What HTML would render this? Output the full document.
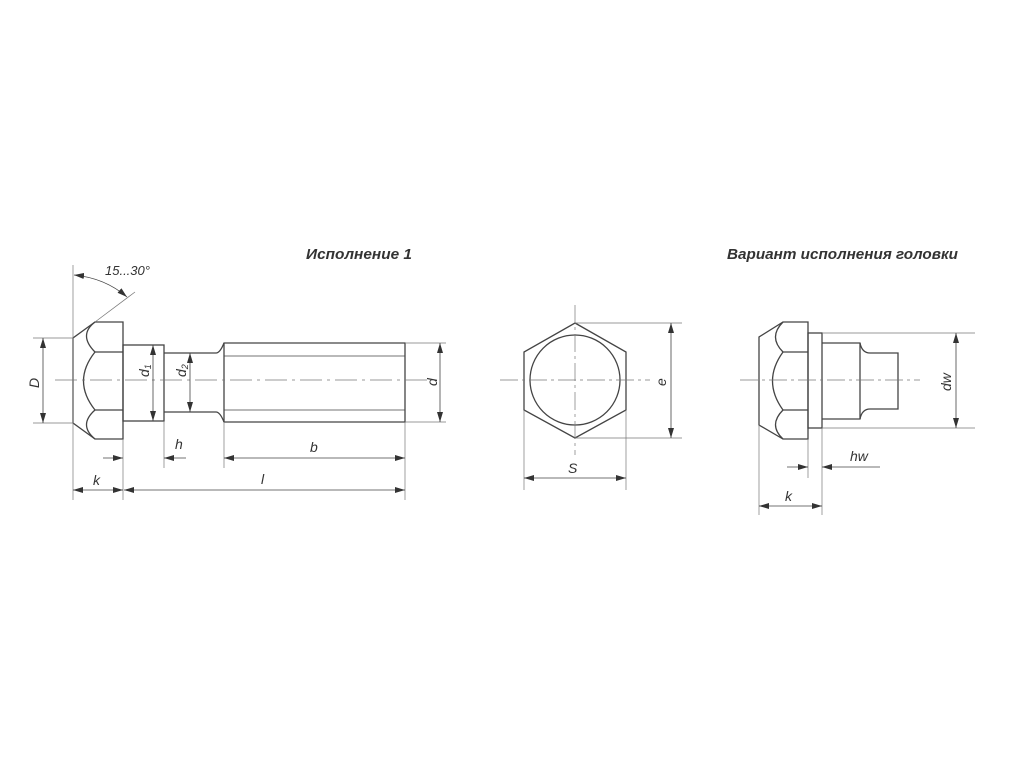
<!DOCTYPE html>
<html><head><meta charset="utf-8"><style>
html,body{margin:0;padding:0;background:#fff;}
svg{display:block}
text{font-family:"Liberation Sans",sans-serif;font-style:italic;fill:#333;}
</style></head><body>
<svg width="1024" height="768" viewBox="0 0 1024 768" xmlns="http://www.w3.org/2000/svg">
<defs>
<marker id="a" viewBox="0 0 10 6" refX="10" refY="3" markerWidth="10" markerHeight="6" orient="auto-start-reverse" markerUnits="userSpaceOnUse"><path d="M0,0 L10,3 L0,6 z" fill="#333"/></marker>
</defs>
<g stroke="#444" stroke-width="1.3" fill="none">
<path d="M73,338 L73,423 L95,439 L123,439 L123,322 L95,322 Z"/>
<path d="M95,322 Q78,335 95,352 M95,352 Q72,381 95,410 M95,410 Q78,425 95,439"/>
<line x1="95" y1="352" x2="123" y2="352"/><line x1="95" y1="410" x2="123" y2="410"/>
<rect x="123" y="345" width="41" height="76"/>
<path d="M164,353 L216,353 Q220,353 224,343 L405,343 L405,422 L224,422 Q220,412 216,412 L164,412"/>
<line x1="224" y1="343" x2="224" y2="422"/>
<line x1="224" y1="356" x2="405" y2="356" stroke-width="0.8"/><line x1="224" y1="410" x2="405" y2="410" stroke-width="0.8"/>
<polygon points="575,323 626,352 626,410 575,438 524,410 524,352"/>
<circle cx="575" cy="380" r="45"/>
<path d="M759,337 L759,425 L783,439 L808,439 L808,322 L783,322 Z"/>
<path d="M783,322 Q768,337 783,352 M783,352 Q762,381 783,410 M783,410 Q768,425 783,439"/>
<line x1="783" y1="352" x2="808" y2="352"/><line x1="783" y1="410" x2="808" y2="410"/>
<rect x="808" y="333" width="14" height="95"/>
<path d="M822,343 L860,343 Q862,353 870,353 L898,353 L898,409 L870,409 Q862,409 860,419 L822,419"/>
<line x1="860" y1="343" x2="860" y2="419"/>
</g>
<g stroke="#777" stroke-width="0.7" fill="none">
<line x1="55" y1="380" x2="430" y2="380" stroke-dasharray="22,5,3,5"/>
<line x1="500" y1="380" x2="650" y2="380" stroke-dasharray="18,4,3,4"/>
<line x1="575" y1="305" x2="575" y2="455" stroke-dasharray="18,4,3,4"/>
<line x1="740" y1="380" x2="920" y2="380" stroke-dasharray="18,4,3,4"/>
<line x1="33" y1="338" x2="73" y2="338"/><line x1="33" y1="423" x2="73" y2="423"/>
<line x1="405" y1="343" x2="446" y2="343"/><line x1="405" y1="422" x2="446" y2="422"/>
<line x1="73" y1="265" x2="73" y2="500"/><line x1="123" y1="439" x2="123" y2="500"/>
<line x1="164" y1="421" x2="164" y2="468"/><line x1="224" y1="422" x2="224" y2="468"/>
<line x1="405" y1="422" x2="405" y2="500"/>
<line x1="95" y1="322" x2="135" y2="292"/>
<line x1="575" y1="323" x2="682" y2="323"/><line x1="575" y1="438" x2="682" y2="438"/>
<line x1="524" y1="410" x2="524" y2="490"/><line x1="626" y1="410" x2="626" y2="490"/>
<line x1="822" y1="333" x2="975" y2="333"/><line x1="822" y1="428" x2="975" y2="428"/>
<line x1="759" y1="425" x2="759" y2="515"/><line x1="822" y1="428" x2="822" y2="515"/>
<line x1="808" y1="439" x2="808" y2="478"/>
</g>
<g stroke="#444" stroke-width="0.8" fill="none">
<line x1="43" y1="338" x2="43" y2="423" marker-start="url(#a)" marker-end="url(#a)"/>
<line x1="153" y1="345" x2="153" y2="421" marker-start="url(#a)" marker-end="url(#a)"/>
<line x1="190" y1="353" x2="190" y2="412" marker-start="url(#a)" marker-end="url(#a)"/>
<line x1="440" y1="343" x2="440" y2="422" marker-start="url(#a)" marker-end="url(#a)"/>
<line x1="103" y1="458" x2="123" y2="458" marker-end="url(#a)"/>
<line x1="186" y1="458" x2="164" y2="458" marker-end="url(#a)"/>
<line x1="224" y1="458" x2="405" y2="458" marker-start="url(#a)" marker-end="url(#a)"/>
<line x1="73" y1="490" x2="123" y2="490" marker-start="url(#a)" marker-end="url(#a)"/>
<line x1="124" y1="490" x2="405" y2="490" marker-start="url(#a)" marker-end="url(#a)"/>
<path d="M74,275 Q105,278 127,297" marker-start="url(#a)" marker-end="url(#a)"/>
<line x1="671" y1="323" x2="671" y2="438" marker-start="url(#a)" marker-end="url(#a)"/>
<line x1="524" y1="478" x2="626" y2="478" marker-start="url(#a)" marker-end="url(#a)"/>
<line x1="956" y1="333" x2="956" y2="428" marker-start="url(#a)" marker-end="url(#a)"/>
<line x1="787" y1="467" x2="808" y2="467" marker-end="url(#a)"/>
<line x1="880" y1="467" x2="822" y2="467" marker-end="url(#a)"/>
<line x1="759" y1="506" x2="822" y2="506" marker-start="url(#a)" marker-end="url(#a)"/>
</g>
<g font-size="14">
<text x="306" y="259" font-size="15" font-weight="bold" fill="#222" textLength="106" lengthAdjust="spacingAndGlyphs">Исполнение 1</text>
<text x="727" y="259" font-size="15" font-weight="bold" fill="#222" textLength="231" lengthAdjust="spacingAndGlyphs">Вариант исполнения головки</text>
<text x="105" y="275" font-size="13">15...30°</text>
<text x="310" y="452">b</text>
<text x="175" y="449">h</text>
<text x="93" y="485">k</text>
<text x="261" y="484">l</text>
<text x="568" y="473">S</text>
<text x="850" y="461">hw</text>
<text x="785" y="501">k</text>
<text transform="translate(39,388) rotate(-90)">D</text>
<text transform="translate(149,377) rotate(-90)">d<tspan font-size="9" dy="2">1</tspan></text>
<text transform="translate(186,377) rotate(-90)">d<tspan font-size="9" dy="2">2</tspan></text>
<text transform="translate(437,386) rotate(-90)">d</text>
<text transform="translate(666,386) rotate(-90)">e</text>
<text transform="translate(951,391) rotate(-90)">dw</text>
</g>
</svg>
</body></html>
